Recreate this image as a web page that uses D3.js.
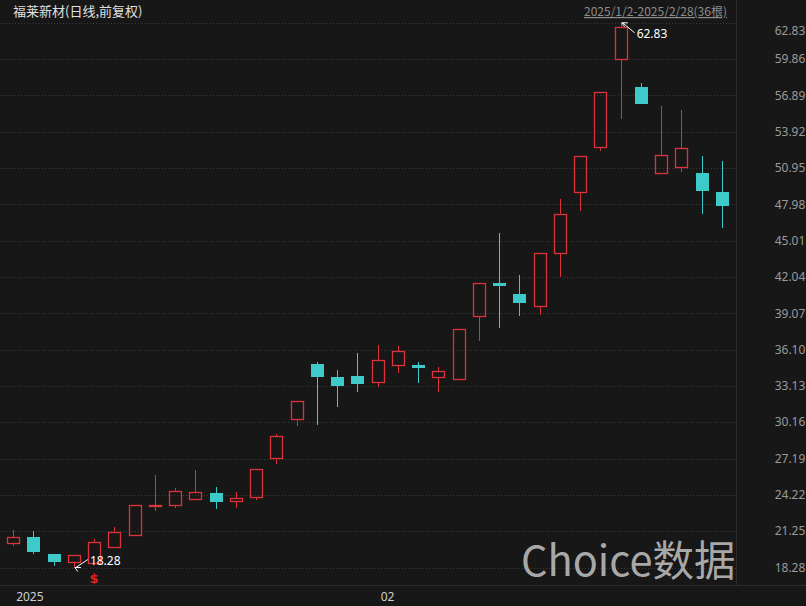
<!DOCTYPE html>
<html><head><meta charset="utf-8">
<script src="https://cdn.jsdelivr.net/npm/d3@7"></script>
<style>
html,body{margin:0;padding:0;background:#171717;}
svg{display:block;}
</style></head>
<body>
<script>
const dates = ["2025-01-02","2025-01-03","2025-01-06","2025-01-07","2025-01-08","2025-01-09","2025-01-10","2025-01-13","2025-01-14","2025-01-15","2025-01-16","2025-01-17","2025-01-20","2025-01-21","2025-01-22","2025-01-23","2025-01-24","2025-01-27",
"2025-02-05","2025-02-06","2025-02-07","2025-02-10","2025-02-11","2025-02-12","2025-02-13","2025-02-14","2025-02-17","2025-02-18","2025-02-19","2025-02-20","2025-02-21","2025-02-24","2025-02-25","2025-02-26","2025-02-27","2025-02-28"];
const opens  = [20.28,20.77,19.38,18.75,18.65,19.96,20.94,23.35,23.39,23.88,24.37,23.72,24.05,27.24,30.43,34.92,33.86,33.94,33.45,34.84,34.84,33.86,33.70,38.85,41.55,40.65,39.67,44.00,48.99,52.67,59.87,57.58,50.55,51.04,50.55,48.99];
const highs  = [21.35,21.27,19.38,19.30,20.61,21.59,23.39,25.85,24.78,26.25,24.86,24.46,26.34,29.20,31.90,35.09,34.43,35.82,36.48,36.40,35.09,34.68,37.79,41.55,45.64,42.20,44.00,48.42,51.94,57.17,62.83,57.91,56.03,55.70,51.94,51.53];
const lows   = [20.04,19.38,18.42,18.28,18.65,19.96,20.94,22.90,23.15,23.88,23.07,23.15,23.80,26.75,29.85,29.94,31.41,32.63,33.04,34.19,33.37,32.63,33.70,36.81,37.87,38.85,38.93,42.04,47.44,52.35,54.96,56.19,50.55,50.63,47.19,46.05];
const closes = [20.77,19.55,18.73,19.30,20.37,21.18,23.39,23.39,24.54,24.46,23.64,23.96,26.34,29.04,31.90,33.86,33.13,33.29,35.25,35.99,34.60,34.35,37.79,41.55,41.30,39.91,44.00,47.19,51.94,57.17,62.49,56.19,52.02,52.59,49.07,47.85];
const yTickLabels = ["18.28","21.25","24.22","27.19","30.16","33.13","36.10","39.07","42.04","45.01","47.98","50.95","53.92","56.89","59.86","62.83"];
const xTickLabels = [{date:"2025-01-02", text:"2025"},{date:"2025-02-05", text:"02"}];
const titleText = "福莱新材(日线,前复权)";
const rangeText = "2025/1/2-2025/2/28(36根)";
const maxLabel = "62.83", minLabel = "18.28";
const dividendDate = "2025-01-08";

const W=806,H=606;
const UP="#dc323b", DOWN="#3fcaca";
const svg=d3.select("body").append("svg").attr("width",W).attr("height",H);
svg.append("rect").attr("width",W).attr("height",H).attr("fill","#171717");

const x=d3.scaleBand().domain(dates).range([3,732]);
const y=d3.scaleLinear().domain([18.28,62.83]).range([567.5,22.8]);
const bw=13;

// grid
const g=svg.append("g");
yTickLabels.forEach(t=>{
  const yy=Math.round(y(+t))+0.5;
  g.append("line").attr("x1",0).attr("x2",736).attr("y1",yy).attr("y2",yy)
   .attr("stroke","#3a3a3a").attr("stroke-width",1).attr("stroke-dasharray","1,2");
  g.append("text").attr("x",790).attr("y",Math.max(y(+t),31)).attr("dy","0.35em")
   .attr("text-anchor","middle").attr("fill","#9a9a9a")
   .attr("font-family","'Noto Sans',sans-serif").attr("font-size",12).text(t);
});
// frame lines
svg.append("line").attr("x1",736.5).attr("x2",736.5).attr("y1",0).attr("y2",585).attr("stroke","#2c2c2c");
svg.append("line").attr("x1",0).attr("x2",W).attr("y1",585.5).attr("y2",585.5).attr("stroke","#2c2c2c");

// watermark
svg.append("text").attr("x",521).attr("y",576).attr("fill","#c4c4c4").attr("fill-opacity",0.85)
  .attr("font-family","'Noto Sans CJK SC','Noto Sans',sans-serif").attr("font-size",41.5).text("Choice数据");

// candles
const data=dates.map((d,i)=>({d,o:opens[i],h:highs[i],l:lows[i],c:closes[i]}));
const cg=svg.append("g");
data.forEach(k=>{
  const cx=Math.round(x(k.d)+x.bandwidth()/2)+0.5;
  const up=k.c>=k.o;
  const col=up?UP:DOWN;
  const top=y(Math.max(k.o,k.c)), bot=y(Math.min(k.o,k.c));
  if(up){
    cg.append("line").attr("x1",cx).attr("x2",cx).attr("y1",y(k.h)).attr("y2",top).attr("stroke",col);
    cg.append("line").attr("x1",cx).attr("x2",cx).attr("y1",bot).attr("y2",y(k.l)).attr("stroke",col);
    cg.append("rect").attr("x",cx-6).attr("y",Math.round(top)+0.5).attr("width",bw-1)
      .attr("height",Math.max(Math.round(bot)-Math.round(top),1)).attr("fill","none").attr("stroke",col).attr("stroke-width",1.3);
  } else {
    cg.append("line").attr("x1",cx).attr("x2",cx).attr("y1",y(k.h)).attr("y2",y(k.l)).attr("stroke",col);
    cg.append("rect").attr("x",cx-6.5).attr("y",Math.round(top)).attr("width",bw)
      .attr("height",Math.max(Math.round(bot)-Math.round(top),3)).attr("fill",col);
  }
});

// max / min annotations
function annot(dt,val,label,dxLabel,dyLabel){
  const cx=x(dt)+x.bandwidth()/2;
  const py=y(val);
  const lx=cx+dxLabel, ly=py+dyLabel;
  svg.append("line").attr("x1",lx-2).attr("y1",ly-5).attr("x2",cx+2).attr("y2",py).attr("stroke","#fff").attr("stroke-width",1);
  svg.append("path").attr("d",`M${cx+1},${py} l6,0 M${cx+1},${py} l3,4`).attr("stroke","#fff").attr("fill","none");
  svg.append("text").attr("x",lx).attr("y",ly).attr("fill","#fff")
    .attr("font-family","'Noto Sans',sans-serif").attr("font-size",12).text(label);
}
const iMax=highs.indexOf(d3.max(highs)), iMin=lows.indexOf(d3.min(lows));
annot(dates[iMax],highs[iMax],maxLabel,16,15);
annot(dates[iMin],lows[iMin],minLabel,16,-3);

// dividend marker
svg.append("text").attr("x",x(dividendDate)+x.bandwidth()/2).attr("y",583).attr("text-anchor","middle")
  .attr("fill","#e02020").attr("font-weight","bold").attr("font-family","'DejaVu Sans',sans-serif").attr("font-size",13).text("$");

// x labels
xTickLabels.forEach(t=>{
  svg.append("text").attr("x",x(t.date)+x.bandwidth()/2+3).attr("y",601).attr("fill","#cfcfcf")
   .attr("font-family","'Noto Sans',sans-serif").attr("font-size",12).text(t.text);
});

// title
svg.append("text").attr("x",13).attr("y",16).attr("fill","#e0e0e0")
  .attr("font-family","'Noto Sans CJK SC',sans-serif").attr("font-size",13).text(titleText);
svg.append("text").attr("x",727).attr("y",16).attr("text-anchor","end").attr("fill","#8c8c8c")
  .attr("text-decoration","underline")
  .attr("font-family","'Noto Sans CJK SC',sans-serif").attr("font-size",12).text(rangeText);
</script>
</body></html>
